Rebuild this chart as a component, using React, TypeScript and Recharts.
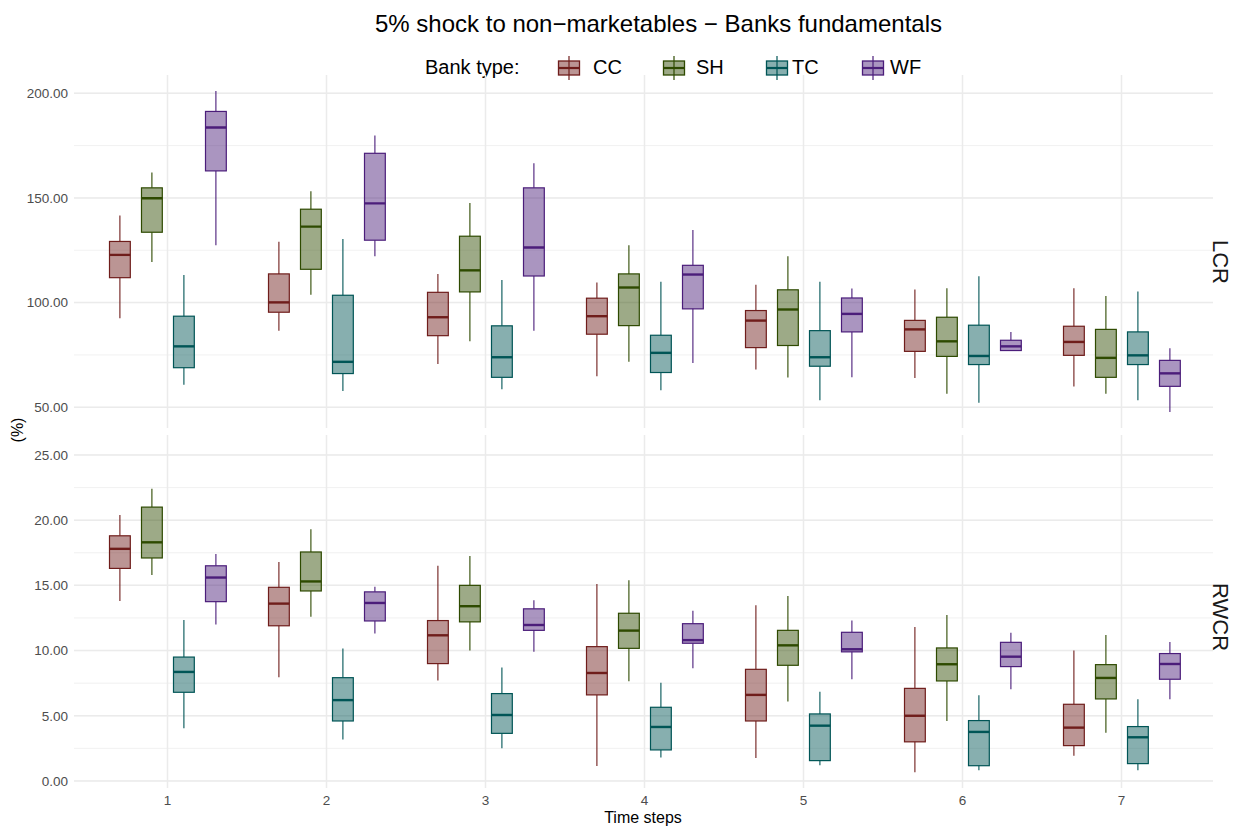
import { Bar, CartesianGrid, ComposedChart, XAxis, YAxis } from "recharts";

// time steps on the x axis
const steps = ["1", "2", "3", "4", "5", "6", "7"];
const bankTypes = ["CC", "SH", "TC", "WF"];

// box stats per step: [lower whisker, q1, median, q3, upper whisker]
const lcrCC = [
	[92.5, 111.9, 122.8, 129.2, 141.6],
	[86.6, 95.4, 100.1, 113.7, 129.1],
	[70.7, 84.2, 93.0, 104.9, 113.7],
	[64.8, 84.9, 93.5, 102.1, 109.6],
	[68.0, 78.5, 91.4, 96.2, 108.5],
	[64.0, 76.7, 87.2, 91.5, 106.2],
	[59.9, 74.8, 81.2, 88.7, 106.8],
];
const lcrSH = [
	[119.4, 133.6, 149.8, 154.8, 162.1],
	[103.8, 115.9, 136.3, 144.6, 153.2],
	[81.5, 105.1, 115.4, 131.7, 147.6],
	[71.8, 89.0, 107.2, 113.7, 127.4],
	[64.2, 79.5, 96.7, 106.1, 122.1],
	[56.4, 74.3, 81.5, 93.0, 106.8],
	[56.5, 64.3, 73.6, 87.2, 103.2],
];
const lcrTC = [
	[60.7, 68.9, 79.1, 93.5, 113.2],
	[57.8, 66.1, 71.7, 103.5, 130.4],
	[58.6, 64.3, 73.9, 88.9, 110.8],
	[58.1, 66.6, 76.0, 84.4, 109.9],
	[53.3, 69.6, 73.9, 86.6, 109.9],
	[52.2, 70.4, 74.5, 89.2, 112.6],
	[53.3, 70.4, 74.8, 86.0, 105.3],
];
const lcrWF = [
	[127.4, 162.9, 183.6, 191.3, 201.0],
	[122.1, 129.8, 147.4, 171.3, 179.8],
	[86.5, 112.7, 126.3, 154.8, 166.6],
	[71.2, 97.0, 113.4, 117.8, 134.7],
	[64.3, 86.0, 94.6, 102.2, 106.7],
	[77.1, 77.1, 79.1, 82.0, 86.0],
	[47.8, 60.0, 66.2, 72.4, 78.2],
];

const rwcrCC = [
	[13.8, 16.3, 17.8, 18.8, 20.4],
	[7.95, 11.9, 13.6, 14.85, 16.8],
	[7.7, 9.0, 11.17, 12.3, 16.5],
	[1.15, 6.6, 8.28, 10.3, 15.1],
	[1.76, 4.6, 6.6, 8.56, 13.47],
	[0.66, 3.0, 5.0, 7.1, 11.8],
	[1.94, 2.71, 4.09, 5.88, 10.0],
];
const rwcrSH = [
	[15.8, 17.1, 18.3, 21.0, 22.4],
	[12.6, 14.57, 15.3, 17.56, 19.3],
	[10.0, 12.2, 13.4, 15.0, 17.25],
	[7.64, 10.17, 11.53, 12.86, 15.4],
	[6.1, 8.87, 10.4, 11.55, 14.19],
	[4.6, 7.67, 8.95, 10.2, 12.73],
	[3.7, 6.29, 7.9, 8.92, 11.2],
];
const rwcrTC = [
	[4.04, 6.8, 8.36, 9.5, 12.35],
	[3.17, 4.6, 6.2, 7.92, 10.15],
	[2.5, 3.65, 5.06, 6.7, 8.7],
	[1.8, 2.38, 4.14, 5.65, 7.54],
	[1.2, 1.56, 4.24, 5.14, 6.85],
	[0.82, 1.17, 3.76, 4.63, 6.57],
	[0.82, 1.33, 3.35, 4.17, 6.26],
];
const rwcrWF = [
	[12.0, 13.75, 15.6, 16.5, 17.4],
	[11.3, 12.27, 13.65, 14.5, 14.9],
	[9.9, 11.55, 11.96, 13.2, 13.85],
	[8.64, 10.56, 10.8, 12.06, 13.06],
	[7.8, 9.9, 10.1, 11.4, 12.3],
	[7.03, 8.77, 9.53, 10.63, 11.37],
	[6.26, 7.8, 8.97, 9.77, 10.66],
];

const lcrTicks = [50, 75, 100, 125, 150, 175, 200];
const lcrMajor = [50, 100, 150, 200];
const rwcrTicks = [0, 2.5, 5, 7.5, 10, 12.5, 15, 17.5, 20, 22.5, 25];
const rwcrMajor = [0, 5, 10, 15, 20, 25];

const colors: Record<string, string> = { CC: "#6F1D1B", SH: "#2E4A00", TC: "#005556", WF: "#4B1D7A" };
const FONT = "'Liberation Sans', Arial, Helvetica, sans-serif";

const lcrRows = steps.map((s, i) => ({ step: s, CC: lcrCC[i], SH: lcrSH[i], TC: lcrTC[i], WF: lcrWF[i] }));
const rwcrRows = steps.map((s, i) => ({ step: s, CC: rwcrCC[i], SH: rwcrSH[i], TC: rwcrTC[i], WF: rwcrWF[i] }));

// bar gets [low whisker, high whisker]; the box parts are placed inside that span
const BoxShape = (props: any) => {
	const { x, y, width, height, payload, bank } = props;
	const [lo, q1, med, q3, hi] = payload[bank];
	const top = Math.min(y, y + height);
	const bottom = Math.max(y, y + height);
	const span = hi - lo;
	const py = (v: number) => (span === 0 ? top : bottom - ((v - lo) / span) * (bottom - top));
	const cx = x + width / 2;
	const bw = width * 0.65;
	const c = colors[bank];
	return (
		<g>
			<line x1={cx} x2={cx} y1={py(hi)} y2={py(q3)} stroke={c} strokeWidth={1.1} />
			<line x1={cx} x2={cx} y1={py(q1)} y2={py(lo)} stroke={c} strokeWidth={1.1} />
			<rect
				x={cx - bw / 2}
				y={py(q3)}
				width={bw}
				height={py(q1) - py(q3)}
				fill={c}
				fillOpacity={0.47}
				stroke={c}
				strokeWidth={1.2}
			/>
			<line x1={cx - bw / 2} x2={cx + bw / 2} y1={py(med)} y2={py(med)} stroke={c} strokeWidth={2.4} />
		</g>
	);
};

const tickStyle = { fill: "#4D4D4D", fontSize: 13.5, fontFamily: FONT };

const Panel = ({
	rows,
	domain,
	ticks,
	major,
	height,
	margin,
	showX,
}: {
	rows: any[];
	domain: number[];
	ticks: number[];
	major: number[];
	height: number;
	margin: any;
	showX: boolean;
}) => (
	<ComposedChart width={1240} height={height} data={rows} margin={margin} barCategoryGap="10%" barGap={0}>
		<CartesianGrid horizontal={true} vertical={false} syncWithTicks stroke="#EEEEEE" strokeWidth={0.8} />
		<CartesianGrid horizontal={true} vertical={false} syncWithTicks yAxisId="major" stroke="#EBEBEB" strokeWidth={1.5} />
		<CartesianGrid horizontal={false} vertical={true} syncWithTicks stroke="#EBEBEB" strokeWidth={1.5} />
		<XAxis
			dataKey="step"
			hide={!showX}
			padding={{ left: 14, right: 12 }}
			tickLine={false}
			axisLine={false}
			tickSize={0}
			tickMargin={7}
			height={24}
			tick={tickStyle}
		/>
		<YAxis
			type="number"
			domain={domain}
			ticks={ticks}
			allowDataOverflow
			width={74}
			tickLine={false}
			axisLine={false}
			tickSize={0}
			tickMargin={6}
			tick={tickStyle}
			tickFormatter={(v: number) => (major.includes(v) ? v.toFixed(2) : "")}
		/>
		<YAxis yAxisId="major" type="number" domain={domain} ticks={major} allowDataOverflow hide />
		{bankTypes.map((b) => (
			<Bar
				key={b}
				name={b}
				dataKey={(r: any) => [r[b][0], r[b][4]]}
				fill={colors[b]}
				isAnimationActive={false}
				shape={(p: any) => <BoxShape {...p} bank={b} />}
			/>
		))}
	</ComposedChart>
);

const LegendKey = ({ color }: { color: string }) => (
	<svg width={24} height={26} style={{ display: "block" }}>
		<line x1={12} x2={12} y1={1} y2={25} stroke={color} strokeWidth={1.2} />
		<rect x={1.5} y={6} width={21} height={14} fill={color} fillOpacity={0.47} stroke={color} strokeWidth={1.3} />
		<line x1={1.5} x2={22.5} y1={13} y2={13} stroke={color} strokeWidth={2.2} />
	</svg>
);

const keyLeft = [557, 662, 765, 861];
const labelLeft = [593, 696, 792, 890];

export default function App() {
	return (
		<div style={{ position: "relative", width: 1240, height: 827, fontFamily: FONT, background: "#fff" }}>
			<style>{"body{margin:0}"}</style>
			<div style={{ position: "absolute", left: 375, top: 10, fontSize: 24, color: "#000", whiteSpace: "nowrap" }}>
				5% shock to non−marketables − Banks fundamentals
			</div>
			<div style={{ position: "absolute", left: 425, top: 56, fontSize: 20, color: "#000", whiteSpace: "nowrap" }}>
				Bank type:
			</div>
			{bankTypes.map((b, i) => (
				<div key={b}>
					<div style={{ position: "absolute", left: keyLeft[i], top: 55 }}>
						<LegendKey color={colors[b]} />
					</div>
					<div style={{ position: "absolute", left: labelLeft[i], top: 56, fontSize: 20, color: "#000" }}>{b}</div>
				</div>
			))}
			<div style={{ position: "absolute", left: 0, top: 0 }}>
				<Panel
					rows={lcrRows}
					domain={[40.1, 208.7]}
					ticks={lcrTicks}
					major={lcrMajor}
					height={430}
					margin={{ top: 75, right: 27, bottom: 2, left: 0 }}
					showX={false}
				/>
			</div>
			<div style={{ position: "absolute", left: 0, top: 430 }}>
				<Panel
					rows={rwcrRows}
					domain={[-0.54, 26.53]}
					ticks={rwcrTicks}
					major={rwcrMajor}
					height={397}
					margin={{ top: 5, right: 27, bottom: 15, left: 0 }}
					showX={true}
				/>
			</div>
			<div
				style={{
					position: "absolute",
					left: 1220,
					top: 262,
					transform: "translate(-50%, -50%) rotate(90deg)",
					fontSize: 22,
					color: "#1A1A1A",
				}}
			>
				LCR
			</div>
			<div
				style={{
					position: "absolute",
					left: 1220,
					top: 617,
					transform: "translate(-50%, -50%) rotate(90deg)",
					fontSize: 22,
					color: "#1A1A1A",
				}}
			>
				RWCR
			</div>
			<div
				style={{
					position: "absolute",
					left: 18,
					top: 430,
					transform: "translate(-50%, -50%) rotate(-90deg)",
					fontSize: 16,
					color: "#000",
				}}
			>
				(%)
			</div>
			<div
				style={{
					position: "absolute",
					left: 643,
					top: 818,
					transform: "translate(-50%, -50%)",
					fontSize: 16,
					color: "#000",
					whiteSpace: "nowrap",
				}}
			>
				Time steps
			</div>
		</div>
	);
}
